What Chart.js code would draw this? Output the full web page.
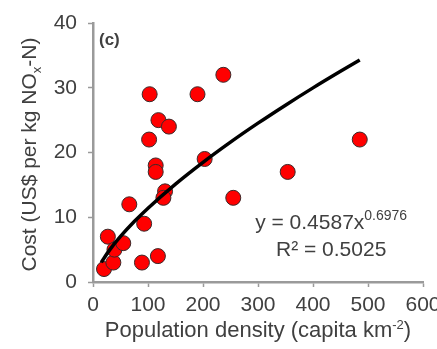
<!DOCTYPE html>
<html>
<head>
<meta charset="utf-8">
<script src="https://cdn.jsdelivr.net/npm/chart.js@4.4.0/dist/chart.umd.min.js"></script>
<style>
  html, body { margin: 0; padding: 0; background: #fff; }
  canvas { display: block; }
</style>
</head>
<body>
<canvas id="costChart" width="437" height="349"></canvas>
<script>
// observed points: population density vs cost
const density = [20, 27, 37, 39, 55, 66, 89, 93, 118, 103, 102, 119, 138, 114, 114, 131, 128, 190, 203, 237, 255, 354, 485]
const cost = [2, 7, 3, 5, 6, 12, 3, 9, 4, 29, 22, 25, 24, 18, 17, 14, 13, 29, 19, 32, 13, 17, 22]

// fitted power curve
const fitX = [15, 30, 50, 75, 100, 150, 200, 250, 300, 350, 400, 450, 485]
const fitY = [3.03, 4.92, 7.03, 9.33, 11.4, 15.12, 18.48, 21.6, 24.53, 27.31, 29.98, 32.54, 34.28]

const xTicks = [0, 100, 200, 300, 400, 500, 600]
const yTicks = [0, 10, 20, 30, 40]

const textColor = "#404040"
const axisColor = "#9a9a9a"
const fontFamily = "'Liberation Sans', Arial, sans-serif"

document.addEventListener("DOMContentLoaded", () => {
  drawChart()
})

// draws a run of [text, size, shift] pieces starting at x
function drawPieces(ctx, pieces, x, y) {
  let cx = x
  pieces.forEach(([txt, size, shift]) => {
    ctx.font = size + "px " + fontFamily
    ctx.fillText(txt, cx, y + shift)
    cx += ctx.measureText(txt).width
  })
}

function piecesWidth(ctx, pieces) {
  let w = 0
  pieces.forEach(([txt, size]) => {
    ctx.font = size + "px " + fontFamily
    w += ctx.measureText(txt).width
  })
  return w
}

const labelsPlugin = {
  id: "labels",
  afterDraw(chart) {
    const ctx = chart.ctx
    const area = chart.chartArea
    const xs = chart.scales.x
    const ys = chart.scales.y
    ctx.save()
    ctx.fillStyle = textColor
    ctx.textBaseline = "alphabetic"
    ctx.textAlign = "left"

    // panel tag
    ctx.font = "bold 17px " + fontFamily
    ctx.fillText("(c)", area.left + 6, 45)

    // x title with superscript
    const xt = [["Population density (capita km", 22, 0], ["-2", 13, -8], [")", 22, 0]]
    const xw = piecesWidth(ctx, xt)
    drawPieces(ctx, xt, (area.left + area.right) / 2 - xw / 2, 337)

    // y title with subscript, rotated
    const yt = [["Cost (US$ per kg NO", 21, 0], ["x", 13, 5], ["-N)", 21, 0]]
    const yw = piecesWidth(ctx, yt)
    ctx.save()
    ctx.translate(36, (area.top + area.bottom) / 2 + 2)
    ctx.rotate(-Math.PI / 2)
    drawPieces(ctx, yt, -yw / 2, 0)
    ctx.restore()

    // equation and r squared
    const cx = xs.getPixelForValue(433)
    const eq = [["y = 0.4587x", 21, 0], ["0.6976", 14, -9]]
    const ew = piecesWidth(ctx, eq)
    drawPieces(ctx, eq, cx - ew / 2, ys.getPixelForValue(8.2))
    const r2 = [["R² = 0.5025", 21, 0]]
    const rw = piecesWidth(ctx, r2)
    drawPieces(ctx, r2, cx - rw / 2, ys.getPixelForValue(4.0))

    ctx.restore()
  },
}

function drawChart() {
  const ctx = document.getElementById("costChart")
  if (!ctx) return

  const points = density.map((d, i) => ({ x: d, y: cost[i] }))
  const curve = fitX.map((d, i) => ({ x: d, y: fitY[i] }))

  new Chart(ctx, {
    type: "scatter",
    data: {
      datasets: [
        {
          type: "line",
          data: curve,
          borderColor: "#000",
          borderWidth: 3.5,
          pointRadius: 0,
          fill: false,
          cubicInterpolationMode: "monotone",
          order: 0,
        },
        {
          data: points,
          backgroundColor: "#ff0000",
          borderColor: "#3a2a2a",
          borderWidth: 1,
          pointRadius: 7.5,
          order: 1,
        },
      ],
    },
    options: {
      responsive: false,
      animation: false,
      devicePixelRatio: 1,
      layout: {
        padding: { left: 0, right: 14, top: 23, bottom: 0 },
      },
      plugins: {
        legend: { display: false },
        tooltip: { enabled: false },
      },
      scales: {
        x: {
          type: "linear",
          min: 0,
          max: 600,
          afterBuildTicks: (scale) => {
            scale.ticks = xTicks.map((v) => ({ value: v }))
          },
          afterFit: (scale) => {
            scale.height = 67
            scale.paddingLeft = 0
            scale.paddingRight = 0
          },
          border: { color: axisColor, width: 2.5 },
          grid: {
            drawOnChartArea: false,
            drawTicks: true,
            tickLength: 5,
            tickColor: axisColor,
            tickWidth: 1.5,
          },
          ticks: {
            color: textColor,
            padding: 6,
            maxRotation: 0,
            autoSkip: false,
            font: { family: fontFamily, size: 21 },
          },
        },
        y: {
          type: "linear",
          min: 0,
          max: 40,
          afterBuildTicks: (scale) => {
            scale.ticks = yTicks.map((v) => ({ value: v }))
          },
          afterFit: (scale) => {
            scale.width = 93
            scale.paddingTop = 0
            scale.paddingBottom = 0
          },
          border: { color: axisColor, width: 2.5 },
          grid: {
            drawOnChartArea: false,
            drawTicks: true,
            tickLength: 5,
            tickColor: axisColor,
            tickWidth: 1.5,
          },
          ticks: {
            color: textColor,
            padding: 11,
            font: { family: fontFamily, size: 21 },
          },
        },
      },
    },
    plugins: [labelsPlugin],
  })
}
</script>
</body>
</html>
